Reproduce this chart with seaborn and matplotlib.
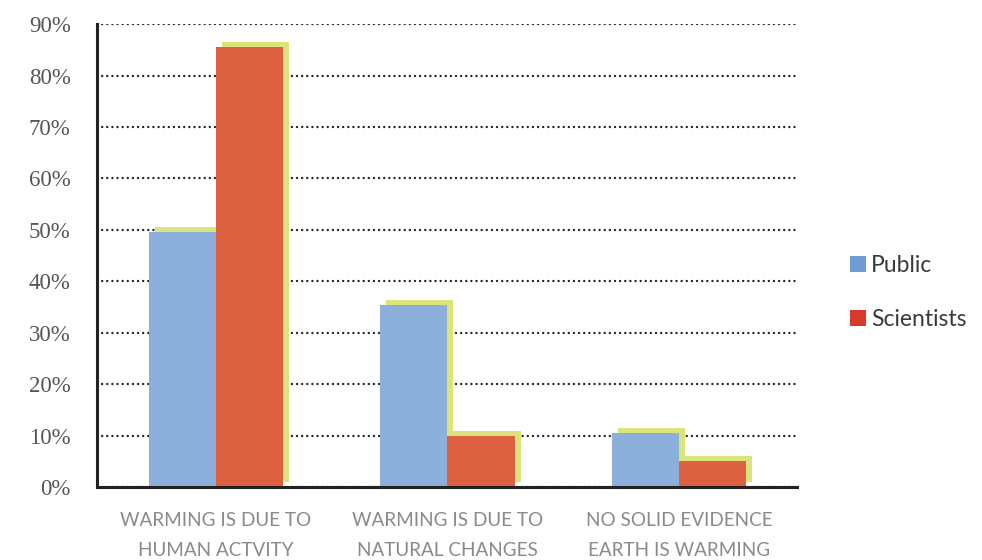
import matplotlib
matplotlib.use("Agg")
import matplotlib.pyplot as plt
import matplotlib.patheffects as pe
from matplotlib.patches import Patch
import seaborn as sns
import pandas as pd

categories = ["WARMING IS DUE TO\nHUMAN ACTVITY",
              "WARMING IS DUE TO\nNATURAL CHANGES",
              "NO SOLID EVIDENCE\nEARTH IS WARMING"]
groups = ["Public", "Scientists"]
public_vals = [49.5, 35.3, 10.5]
scientist_vals = [85.5, 10.0, 5.0]
y_ticks = [0, 10, 20, 30, 40, 50, 60, 70, 80, 90]
y_labels = [f"{v}%" for v in y_ticks]

df = pd.DataFrame({
    "category": categories * 2,
    "group": [groups[0]] * 3 + [groups[1]] * 3,
    "value": public_vals + scientist_vals,
})

bar_colors = ["#8DAFDB", "#DB6140"]
legend_colors = ["#6D9CD6", "#D53A2B"]
shadow_color = "#DAE47A"

sns.set_style("white")
fig = plt.figure(figsize=(9.82, 5.6), dpi=100)
ax = fig.add_axes([0.0988, 0.1304, 0.8116 - 0.0988, 0.957 - 0.1304])

sns.barplot(data=df, x="category", y="value", hue="group", palette=bar_colors,
            width=0.58, saturation=1, ax=ax, legend=False, edgecolor="none",
            linewidth=0)

for p in ax.patches:
    p.set_path_effects([pe.SimplePatchShadow(offset=(4.3, 3.6), shadow_rgbFace=shadow_color, alpha=1),
                        pe.Normal()])

ax.set_xlim(-0.514, 2.51)
ax.set_ylim(0, 90)
ax.set_yticks(y_ticks)
ax.set_yticklabels(y_labels, fontfamily="Liberation Serif", fontsize=16.5, color="#555555")
ax.set_xlabel("")
ax.set_ylabel("")
ax.tick_params(axis="y", length=0, pad=19)
ax.tick_params(axis="x", length=0, pad=18)
for lab in ax.get_xticklabels():
    lab.set_fontfamily(["Lato", "DejaVu Sans"])
    lab.set_fontweight("normal")
    lab.set_fontsize(13.6)
    lab.set_color("#8a8a8a")
    lab.set_linespacing(1.95)

ax.grid(axis="y", color="#222222", linestyle=(0, (0.01, 2.1)), linewidth=1.75,
        dash_capstyle="round")
ax.grid(axis="x", visible=False)
ax.set_axisbelow(True)

for s in ["top", "right"]:
    ax.spines[s].set_visible(False)
for s in ["left", "bottom"]:
    ax.spines[s].set_color("#222222")
    ax.spines[s].set_linewidth(2.2)

# end caps
ax.set_yticks([90], minor=True)
ax.set_xticks([2.51], minor=True)
ax.tick_params(axis="y", which="minor", length=7, width=2.2, color="#222222", direction="inout")
ax.tick_params(axis="x", which="minor", length=10, width=2.2, color="#222222", direction="inout")

handles = [Patch(facecolor=c, edgecolor="none") for c in legend_colors]
leg = fig.legend(handles, groups, loc="center left", bbox_to_anchor=(0.8565, 0.477),
                 frameon=False, prop={"family": ["Lato", "DejaVu Sans"], "size": 16.5},
                 handlelength=0.7, handleheight=0.7, handletextpad=0.2,
                 labelspacing=1.45, borderaxespad=0)
for t in leg.get_texts():
    t.set_color("#3a3a3a")

fig.savefig("out.png", dpi=100)
